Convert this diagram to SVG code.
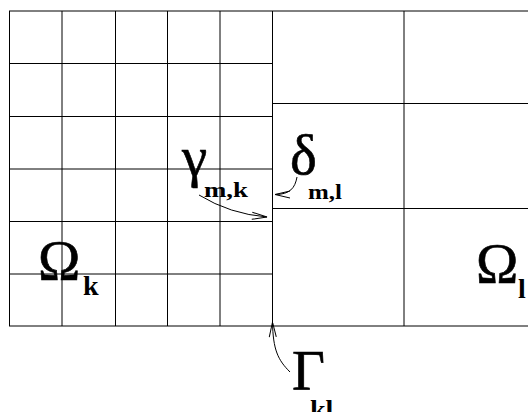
<svg xmlns="http://www.w3.org/2000/svg" width="528" height="412" viewBox="0 0 528 412">
<style>
.g{stroke:#000;stroke-width:1;fill:none}
.big{font-family:"Liberation Serif","Times New Roman",serif;font-size:57px;fill:#000;stroke:#000;stroke-width:0.6}
.sub{font-family:"Liberation Serif","Times New Roman",serif;font-weight:bold;font-size:22px;fill:#000}
.sub2{font-family:"Liberation Serif","Times New Roman",serif;font-weight:bold;font-size:28px;fill:#000}
.c{stroke:#000;stroke-width:1;fill:none;marker-end:url(#ah)}
</style>
<defs>
<marker id="ah" markerUnits="userSpaceOnUse" markerWidth="17" markerHeight="9" viewBox="0 0 17 9" refX="16" refY="4.5" orient="auto">
<path d="M1,1 L16,4.5 L1,8" fill="none" stroke="#000" stroke-width="1"/>
</marker>
</defs>
<rect width="528" height="412" fill="#fff"/>
<g id="omega_k">
<path class="g" d="M9.5,11 V326 M62,11 V326 M115.5,11 V326 M167.5,11 V326 M220,11 V326 M9,63.5 H272.5 M9,116.5 H272.5 M9,169 H272.5 M9,221.5 H272.5 M9,274 H272.5"/>
</g>
<g id="omega_l">
<path class="g" d="M404,11 V326 M272.5,103.5 H528 M272.5,208.5 H528"/>
</g>
<g id="frame">
<path class="g" d="M9,11 H528 M9,326 H528 M272.5,11 V326"/>
</g>
<g id="connectors">
<path class="c" d="M199,195 Q230,214 267,217"/>
<path class="c" d="M297,177 C295,188 290,194.5 275,194.5"/>
<path class="c" d="M290,372 C278,360 273,350 272.5,322"/>
</g>
<g id="label_omega_k">
<text class="big" x="38" y="280">Ω</text>
<text class="sub2" x="83" y="295">k</text>
</g>
<g id="label_omega_l">
<text class="big" x="476" y="283">Ω</text>
<text class="sub2" x="518" y="298">l</text>
</g>
<g id="label_gamma">
<text class="big" x="182" y="176">γ</text>
<text class="sub" x="204" y="197" textLength="44" lengthAdjust="spacingAndGlyphs">m,k</text>
</g>
<g id="label_delta">
<text class="big" x="290" y="174">δ</text>
<text class="sub" x="308" y="199" textLength="34" lengthAdjust="spacingAndGlyphs">m,l</text>
</g>
<g id="label_Gamma">
<text class="big" x="292" y="390">Γ</text>
<text class="sub2" x="310" y="419">kl</text>
</g>
</svg>
